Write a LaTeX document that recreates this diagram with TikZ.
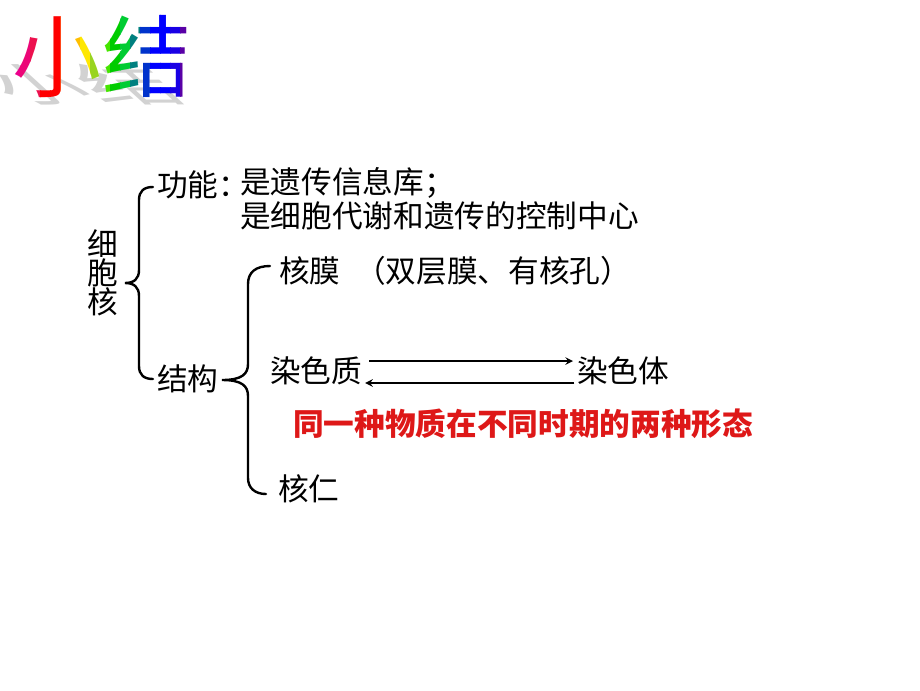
\documentclass[tikz,border=0pt]{standalone}
\usepackage{fontspec}
\setmainfont{Noto Sans CJK SC}
\usetikzlibrary{arrows}
\definecolor{notered}{RGB}{222,24,24}
\tikzstyle{txt} = [anchor=west, inner sep=0pt, font=\fontsize{23}{26}\selectfont]
\tikzstyle{titletxt} = [inner sep=0pt, font=\fontsize{67}{67}\selectfont]
\tikzstyle{brace} = [line width=1.8pt, line cap=round]
\tikzstyle{arrow} = [line width=1.5pt,->,>=stealth]

\begin{document}
\begin{tikzpicture}[x=0.75pt, y=-0.75pt]
\useasboundingbox (0,0) rectangle (920,690);
\fill[white] (0,0) rectangle (920,690);

\begin{scope}[shift={(100,101)}, xslant=-1.1, yscale=0.5]
\node[titletxt, transform shape, anchor=base, text=gray!35] (shadow) at (0,0) {小结};
\end{scope}
\foreach \xa/\c [count=\i] in {0/magenta, 10/magenta, 20/magenta!80!red, 30/magenta!40!red, 40/red, 50/red,
  60/red!50!orange, 70/orange!50!yellow, 80/yellow!90!orange, 90/yellow!60!green, 100/green!70!yellow!90!black,
  110/green!80!black, 120/green!60!teal, 130/teal, 140/teal!40!blue, 150/blue, 160/blue,
  170/blue!80!violet, 180/violet!70!blue, 190/violet} {
  \begin{scope}
  \clip (\xa,0) rectangle (\xa+10.2,120);
  \node[titletxt, text=\c] (title\i) at (102,57) {小结};
  \end{scope}
}

\node[txt, anchor=center, align=center, font=\fontsize{23}{21.75}\selectfont] (nucleus) at (103,273) {细\\胞\\核};
\node at (157,185) (func) [txt] {功能：};
\node at (240,183) (func1) [txt] {是遗传信息库；};
\node at (240,216) (func2) [txt] {是细胞代谢和遗传的控制中心};
\node at (157,379) (struct) [txt] {结构};
\node at (279,271) (envelope) [txt] {核膜};
\node at (355,271) (envnote) [txt] {（双层膜、有核孔）};
\node at (270,371) (chromatin) [txt] {染色质};
\node at (577,371) (chromosome) [txt] {染色体};
\node at (293,424) (note) [txt, text=notered, font=\fontsize{23}{26}\selectfont\bfseries] {同一种物质在不同时期的两种形态};
\node at (278,489) (nucleolus) [txt] {核仁};

\draw [brace] (153,187) .. controls (144,187) and (139,191) .. (139,200) -- (139,270) .. controls (139,279) and (134,283) .. (125,283) .. controls (134,283) and (139,287) .. (139,296) -- (139,366) .. controls (139,375) and (144,379) .. (153,379);
\draw [brace] (270,266) .. controls (256,266) and (248,272) .. (248,284) -- (248,364) .. controls (248,374) and (242,380) .. (222,380) .. controls (242,380) and (248,386) .. (248,396) -- (248,478) .. controls (248,488) and (255,494) .. (266,494);

\draw [arrow] ([xshift=5pt, yshift=7.5pt]chromatin.east) -- ([xshift=-3pt, yshift=7.5pt]chromosome.west);
\draw [arrow] ([xshift=-2pt, yshift=-9pt]chromosome.west) -- ([xshift=2pt, yshift=-9pt]chromatin.east);

\end{tikzpicture}
\end{document}
